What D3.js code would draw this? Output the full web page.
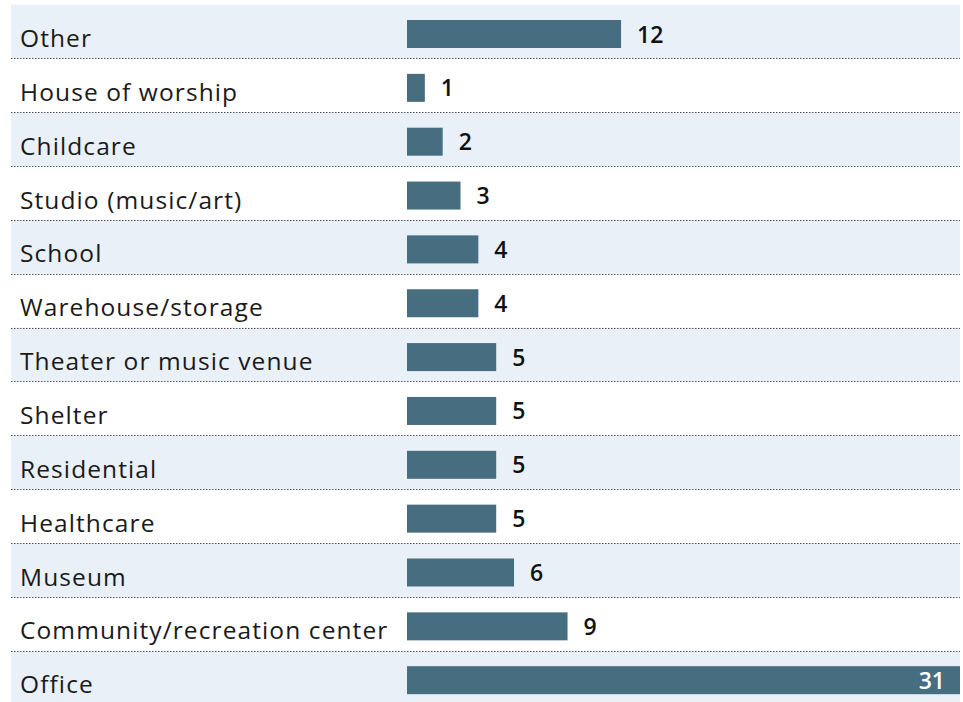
<!DOCTYPE html>
<html>
<head>
<meta charset="utf-8">
<script src="https://cdn.jsdelivr.net/npm/d3@7"></script>
<style>
  body { margin: 0; background: #fff; }
  text { font-family: "Open Sans", sans-serif; }
  .cat { font-size: 24.5px; letter-spacing: 1.1px; fill: #1a1a1a; }
  .val { font-size: 23px; font-weight: 600; fill: #111; }
</style>
</head>
<body>
<div id="chart"></div>
<script>
const categories = ["Other", "House of worship", "Childcare", "Studio (music/art)", "School",
  "Warehouse/storage", "Theater or music venue", "Shelter", "Residential", "Healthcare",
  "Museum", "Community/recreation center", "Office"];
const values = [12, 1, 2, 3, 4, 4, 5, 5, 5, 5, 6, 9, 31];

const WIDTH = 963, HEIGHT = 702;
const BARHEIGHT = 28;

const svg = d3.select("#chart").append("svg")
  .attr("width", WIDTH)
  .attr("height", HEIGHT)

const rows = categories.map((c, i) => ({ name: c, value: values[i], i: i }));

const yScale = d3.scaleBand()
  .domain(categories)
  .range([4.5, 4.5 + 13 * 53.85])
  .padding(0)

const xScale = d3.scaleLinear()
  .domain([0, 31])
  .range([407, 960])

// row backgrounds, every other one shaded
svg.selectAll(".rowbg")
  .data(rows.filter(d => d.i % 2 == 0))
  .join("rect")
  .attr("x", 11)
  .attr("y", d => yScale(d.name))
  .attr("width", 960 - 11)
  .attr("height", yScale.bandwidth())
  .attr("fill", "#e9f0f8")

// dotted separators
svg.selectAll(".sep")
  .data(rows.slice(0, -1))
  .join("line")
  .attr("x1", 11)
  .attr("x2", 960)
  .attr("y1", d => Math.round(yScale(d.name) + yScale.bandwidth()) + 0.5)
  .attr("y2", d => Math.round(yScale(d.name) + yScale.bandwidth()) + 0.5)
  .attr("stroke", "#555")
  .attr("stroke-width", 1)
  .attr("stroke-dasharray", "1.5 1.5")

svg.selectAll(".cat")
  .data(rows)
  .join("text")
  .attr("class", "cat")
  .attr("x", 20)
  .attr("y", d => yScale(d.name) + 42.5)
  .text(d => d.name)

svg.selectAll(".bar")
  .data(rows)
  .join("rect")
  .attr("x", xScale(0))
  .attr("y", d => yScale(d.name) + 15.5)
  .attr("width", d => xScale(d.value) - xScale(0))
  .attr("height", BARHEIGHT)
  .attr("fill", "#466d80")

// value labels, the biggest one goes inside the bar
svg.selectAll(".val")
  .data(rows)
  .join("text")
  .attr("class", "val")
  .attr("x", d => d.value == d3.max(values) ? xScale(d.value) - 15 : xScale(d.value) + 16)
  .attr("y", d => yScale(d.name) + 15.5 + BARHEIGHT / 2 + 8.5)
  .attr("text-anchor", d => d.value == d3.max(values) ? "end" : "start")
  .style("fill", d => d.value == d3.max(values) ? "#fff" : null)
  .text(d => d.value)
</script>
</body>
</html>
